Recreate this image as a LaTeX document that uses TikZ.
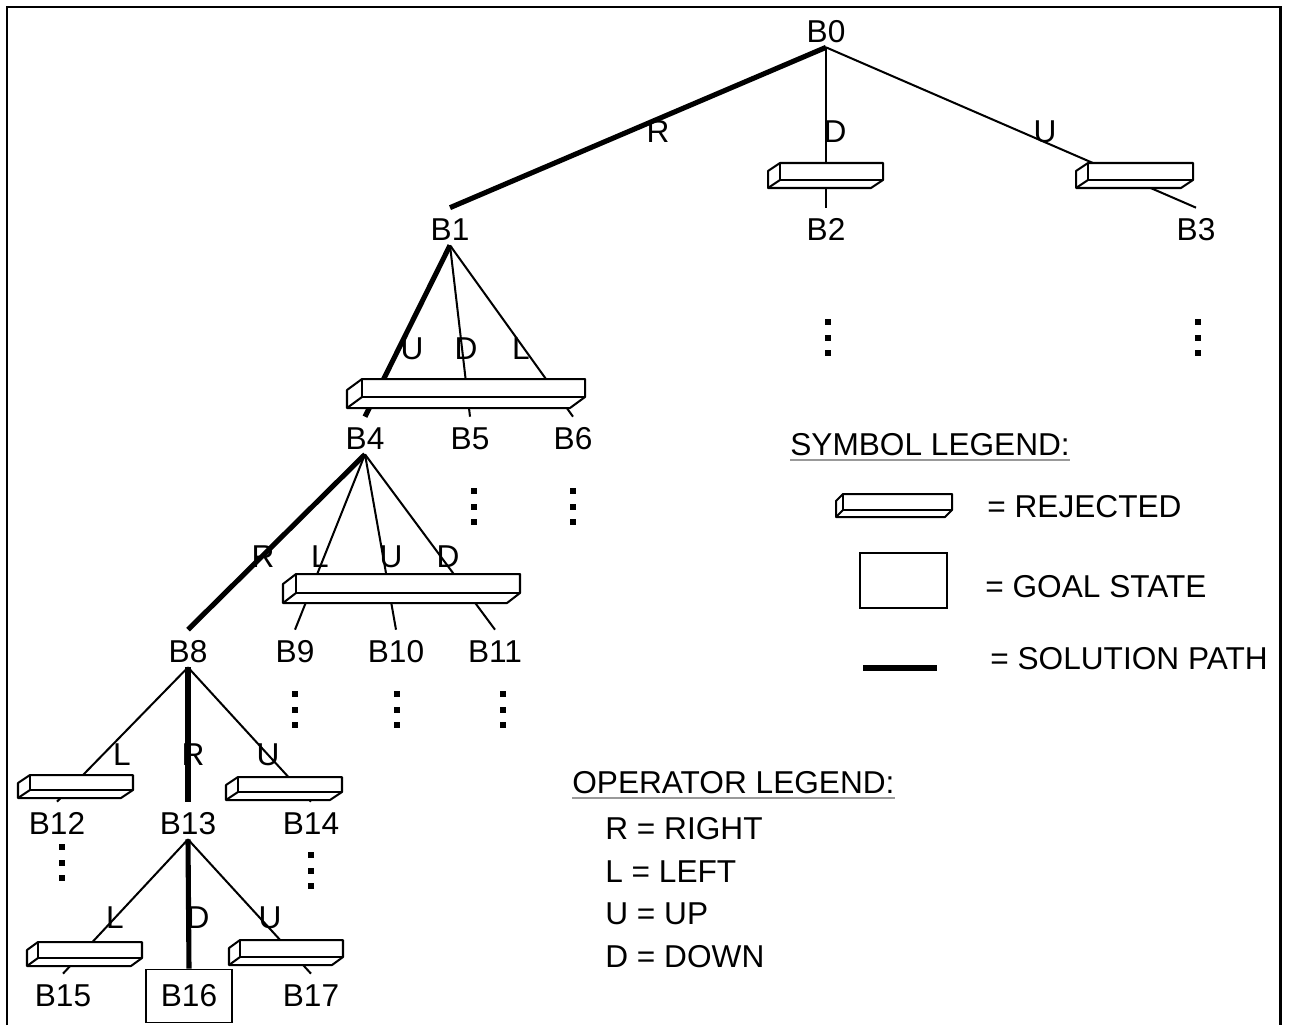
\documentclass[tikz,border=0pt]{standalone}
\usepackage{fontspec}
\setmainfont{Liberation Sans}
\usepackage{tikz}
\usetikzlibrary{positioning, calc}
\tikzset{
  estado/.style={anchor=base, inner sep=0pt, text height=0.64cm, text depth=0.1cm},
  meta/.style={rectangle, draw=black, line width=1.1pt, minimum width=1.72cm, minimum height=1.06cm, inner sep=0pt},
  rama/.style={line width=1.15pt},
  solucion/.style={line width=2.9pt},
  losa/.style={draw=black, line width=1.15pt, line join=round},
  texto/.style={anchor=base west, inner sep=0pt}
}
% losa de estado rechazado: x, y, ancho, alto, dx, dy
\newcommand{\losa}[6]{%
  \filldraw[losa, fill=white] (#1,#2) -- ++(-#5,#6) -- ++(0,#4) -- ++(#3,0) -- ++(#5,-#6) -- ++(0,-#4) -- cycle;
  \draw[losa] (#1,#2) -- ++(0,#4) -- ++(#3,0);
  \draw[losa] (#1,#2+#4) -- ++(-#5,#6);
}

\begin{document}
\begin{tikzpicture}[
    x=0.02cm, y=-0.02cm,
    every node/.style={font=\fontsize{18}{21}\selectfont},
    marco/.style={line width=1.7pt},
    subrayado/.style={gray!80, line width=0.8pt}
  ]
  \useasboundingbox (0,0) rectangle (1290,1025);
  \draw[marco] (7,1025) -- (7,7) -- (1280,7) -- (1280,1025);

  % Estados
  \node[estado] (B0) at (826,42) {B0};
  \node[estado] (B1) at (450,240) {B1};
  \node[estado] (B2) at (826,240) {B2};
  \node[estado] (B3) at (1196,240) {B3};
  \node[estado] (B4) at (365,449) {B4};
  \node[estado] (B5) at (470,449) {B5};
  \node[estado] (B6) at (573,449) {B6};
  \node[estado] (B8) at (188,662) {B8};
  \node[estado] (B9) at (295,662) {B9};
  \node[estado] (B10) at (396,662) {B10};
  \node[estado] (B11) at (495,662) {B11};
  \node[estado] (B12) at (57,834) {B12};
  \node[estado] (B13) at (188,834) {B13};
  \node[estado] (B14) at (311,834) {B14};
  \node[estado] (B15) at (63,1006) {B15};
  \node[meta] (B16) at (189,996) {B16};
  \node[estado] (B17) at (311,1006) {B17};

  % Ramas del arbol
  \draw[solucion] (B0.south) -- (B1.north);
  \draw[rama] (B0.south) -- (B2.north);
  \draw[rama] (B0.south) -- (B3.north);
  \draw[solucion] (B1.south) -- (B4.north);
  \draw[rama] (B1.south) -- (B5.north);
  \draw[rama] (B1.south) -- (B6.north);
  \draw[solucion] (B4.south) -- (B8.north);
  \draw[rama] (B4.south) -- (B9.north);
  \draw[rama] (B4.south) -- (B10.north);
  \draw[rama] (B4.south) -- (B11.north);
  \draw[rama] (B8.south) -- (B12.north);
  \draw[solucion] (B8.south) -- (B13.north);
  \draw[rama] (B8.south) -- (B14.north);
  \draw[rama] (B13.south) -- (B15.north);
  \draw[solucion] (B13.south) -- (B16.north);
  \draw[rama] (B13.south) -- (B17.north);

  % Estados rechazados
  \losa{780}{163}{103}{17}{12}{8}
  \losa{1088}{163}{105}{17}{12}{8}
  \losa{362}{379}{223}{18}{15}{11}
  \losa{296}{574}{224}{19}{13}{10}
  \losa{30}{775}{103}{15}{12}{8}
  \losa{238}{777}{104}{15}{12}{8}
  \losa{38}{942}{104}{16}{11}{8}
  \losa{240}{940}{103}{17}{11}{8}

  % Operadores
  \node (opR0) at (658,132) {R};
  \node (opD0) at (835,132) {D};
  \node (opU0) at (1045,132) {U};
  \node (opU1) at (412,349) {U};
  \node (opD1) at (466,349) {D};
  \node (opL1) at (521,349) {L};
  \node (opR4) at (263,557) {R};
  \node (opL4) at (320,557) {L};
  \node (opU4) at (391,557) {U};
  \node (opD4) at (448,557) {D};
  \node (opL8) at (122,755) {L};
  \node (opR8) at (193,755) {R};
  \node (opU8) at (268,755) {U};
  \node (opL13) at (115,918) {L};
  \node (opD13) at (198,918) {D};
  \node (opU13) at (270,918) {U};

  % Puntos suspensivos
  \foreach \x/\y in {828/322, 1198/322, 474/491, 573/491, 295/694, 397/694, 503/694, 62/847, 311/855}
    \foreach \k in {0,1,2}
      \fill ({\x-3},{\y+15.5*\k-3}) rectangle ++(6,6);

  % Leyenda de simbolos
  \node[texto] (simbolos) at (790,455) {SYMBOL LEGEND:};
  \draw[subrayado] ([yshift=-0.1cm]simbolos.base west) -- ([yshift=-0.1cm]simbolos.base east);
  \losa{843}{494}{109}{16}{7}{7}
  \node[texto] (rechazado) at (987,517) {= REJECTED};
  \node[meta, minimum width=1.74cm, minimum height=1.1cm] (simmeta) at (903.5,580.5) {};
  \node[texto] (objetivo) at (985,597) {= GOAL STATE};
  \draw[solucion] (863,668) -- (937,668);
  \node[texto] (camino) at (990,669) {= SOLUTION PATH};

  % Leyenda de operadores
  \node[texto] (operadores) at (572,793) {OPERATOR LEGEND:};
  \draw[subrayado] ([yshift=-0.1cm]operadores.base west) -- ([yshift=-0.1cm]operadores.base east);
  \node[texto] (derecha) at (605,839) {R = RIGHT};
  \node[texto] (izquierda) at (605,882) {L = LEFT};
  \node[texto] (arriba) at (605,924) {U = UP};
  \node[texto] (abajo) at (605,967) {D = DOWN};
\end{tikzpicture}
\end{document}
